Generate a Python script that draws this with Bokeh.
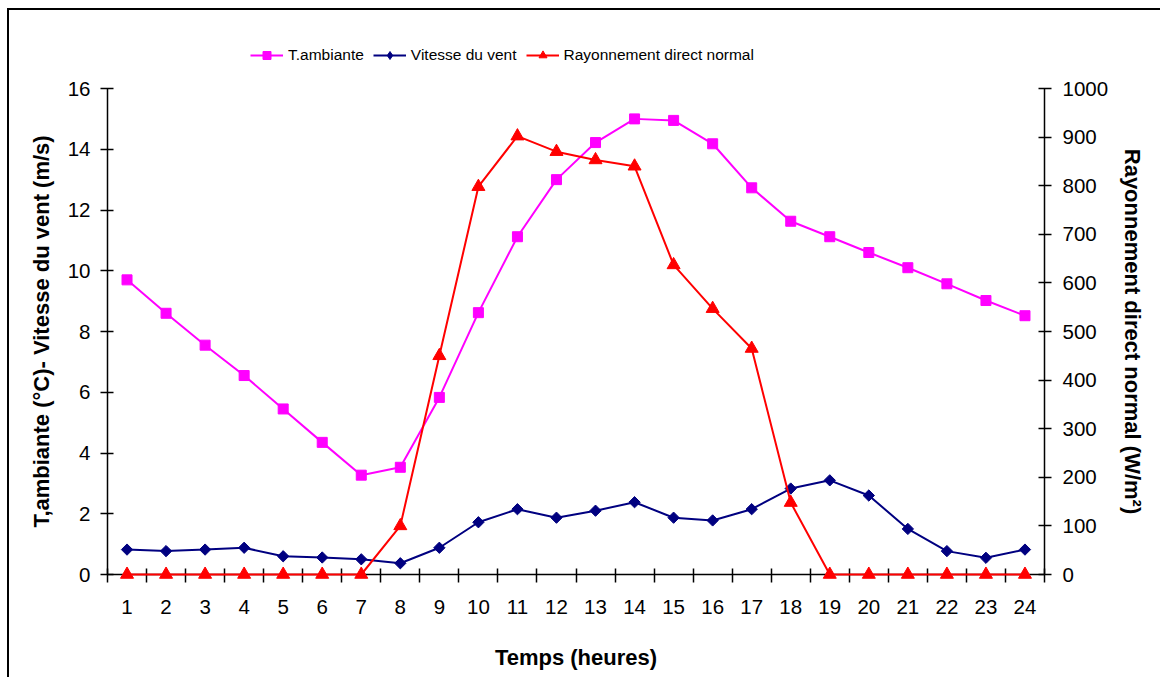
import math
from bokeh.plotting import figure
from bokeh.layouts import column
from bokeh.models import (Range1d, LinearAxis, FixedTicker, Legend, LegendItem)
from bokeh.embed import file_html
from bokeh.resources import INLINE

hours = list(range(1, 25))
t_ambiante = [9.7, 8.6, 7.55, 6.55, 5.45, 4.35, 3.27, 3.53, 5.83, 8.62, 11.12, 13.0,
              14.22, 15.0, 14.95, 14.18, 12.73, 11.63, 11.12, 10.6, 10.1, 9.57, 9.02, 8.52]
vitesse_vent = [0.82, 0.77, 0.82, 0.88, 0.6, 0.56, 0.5, 0.37, 0.88, 1.72, 2.15, 1.87,
                2.1, 2.38, 1.87, 1.78, 2.15, 2.83, 3.1, 2.6, 1.5, 0.77, 0.55, 0.82]
rayonnement = [0, 0, 0, 0, 0, 0, 0, 100, 450, 798, 902, 870,
               853, 840, 637, 547, 465, 148, 0, 0, 0, 0, 0, 0]
left_ticks = list(range(0, 17, 2))
right_ticks = list(range(0, 1001, 100))
labels = ["T.ambiante", "Vitesse du vent", "Rayonnement direct normal"]
colors = ["#FF00FF", "#000080", "#FF0000"]

FONT = "Liberation Sans"
W = 1151

# ---------------- legend strip (top) ----------------
# The strip's ranges keep its (real) data off-canvas; only the legend is visible.
LEG_H = 55
lf = figure(width=W, height=LEG_H, output_backend="svg", toolbar_location=None,
            x_range=Range1d(-3, -2), y_range=Range1d(-3, -2),
            x_axis_location=None, y_axis_location=None,
            min_border=0, min_border_left=0, min_border_right=0,
            min_border_top=0, min_border_bottom=0)
lf.outline_line_color = None
lf.grid.visible = False
lf.background_fill_color = "white"
lf.border_fill_color = "white"
e1 = [lf.line(hours, t_ambiante, line_color=colors[0], line_width=2),
      lf.scatter(hours, t_ambiante, marker="square", size=9, fill_color=colors[0], line_color=colors[0])]
e2 = [lf.line(hours, vitesse_vent, line_color=colors[1], line_width=2),
      lf.scatter(hours, vitesse_vent, marker="diamond", size=12, fill_color=colors[1], line_color=colors[1])]
e3 = [lf.line(hours, rayonnement, line_color=colors[2], line_width=2),
      lf.scatter(hours, rayonnement, marker="triangle", size=11, fill_color=colors[2], line_color=colors[2])]
legend = Legend(items=[LegendItem(label=labels[0], renderers=e1),
                       LegendItem(label=labels[1], renderers=e2),
                       LegendItem(label=labels[2], renderers=e3)],
                orientation="horizontal", location=(143, 0),
                border_line_color=None, background_fill_alpha=0,
                padding=0, margin=0, spacing=9, glyph_width=33, glyph_height=20,
                label_height=20, label_standoff=5, label_text_color="black",
                label_text_font=FONT, label_text_font_size="15.5px")
lf.add_layout(legend)

# ---------------- main chart ----------------
p = figure(width=W, height=612, output_backend="svg", toolbar_location=None,
           x_range=Range1d(0.5, 24.5), y_range=Range1d(0, 16),
           min_border_left=98, min_border_right=116, min_border_top=23,
           min_border_bottom=103)
p.extra_y_ranges = {"rad": Range1d(0, 1000)}
p.outline_line_color = None
p.xgrid.grid_line_color = None
p.ygrid.grid_line_color = None
p.background_fill_color = "white"
p.border_fill_color = "white"

# x axis
xa = p.xaxis[0]
xa.ticker = FixedTicker(ticks=hours, minor_ticks=[h + 0.5 for h in range(0, 25)])
xa.major_tick_line_color = None
xa.minor_tick_line_color = "black"
xa.minor_tick_in = 6
xa.minor_tick_out = 8
xa.minor_tick_line_width = 1.5
xa.axis_line_width = 1.5
xa.major_label_standoff = 17
xa.major_label_text_font = FONT
xa.major_label_text_font_size = "20.5px"
xa.major_label_text_color = "black"
xa.axis_label = "Temps (heures)"
xa.axis_label_text_font = FONT
xa.axis_label_text_font_style = "bold"
xa.axis_label_text_font_size = "22px"
xa.axis_label_text_color = "black"
xa.axis_label_standoff = 28

# left y axis
ya = p.yaxis[0]
ya.ticker = FixedTicker(ticks=left_ticks)
ya.minor_tick_line_color = None
ya.major_tick_in = 6
ya.major_tick_out = 7
ya.major_tick_line_width = 1.5
ya.axis_line_width = 1.5
ya.major_label_standoff = 10
ya.major_label_text_font = FONT
ya.major_label_text_font_size = "20.5px"
ya.major_label_text_color = "black"
ya.axis_label = "T,ambiante (°C)- Vitesse du vent (m/s)"
ya.axis_label_text_font = FONT
ya.axis_label_text_font_style = "bold"
ya.axis_label_text_font_size = "22px"
ya.axis_label_text_color = "black"
ya.axis_label_standoff = 11

# right y axis
ra = LinearAxis(y_range_name="rad", ticker=FixedTicker(ticks=right_ticks))
ra.minor_tick_line_color = None
ra.major_tick_in = 6
ra.major_tick_out = 7
ra.major_tick_line_width = 1.5
ra.axis_line_width = 1.5
ra.major_label_standoff = 11
ra.major_label_text_font = FONT
ra.major_label_text_font_size = "20.5px"
ra.major_label_text_color = "black"
ra.axis_label = "Rayonnement direct normal (W/m²)"
ra.axis_label_text_font = FONT
ra.axis_label_text_font_style = "bold"
ra.axis_label_text_font_size = "22px"
ra.axis_label_text_color = "black"
ra.axis_label_standoff = 9
p.add_layout(ra, "right")

# series
p.line(hours, t_ambiante, line_color=colors[0], line_width=2)
p.scatter(hours, t_ambiante, marker="square", size=10, fill_color=colors[0], line_color=colors[0])
p.line(hours, vitesse_vent, line_color=colors[1], line_width=2)
p.scatter(hours, vitesse_vent, marker="square", angle=math.pi / 4, size=8,
          fill_color=colors[1], line_color=colors[1])
r3 = p.line(hours, rayonnement, line_color=colors[2], line_width=2, y_range_name="rad")
m3 = p.scatter(hours, rayonnement, marker="triangle", size=13, fill_color=colors[2],
               line_color=colors[2], y_range_name="rad")
r3.level = "annotation"
m3.level = "annotation"

layout = column(lf, p, spacing=0,
                styles={"margin-left": "7px", "margin-top": "8px",
                        "border-left": "2px solid black", "border-top": "2px solid black"})

open("out.html", "w").write(file_html(layout, INLINE))
